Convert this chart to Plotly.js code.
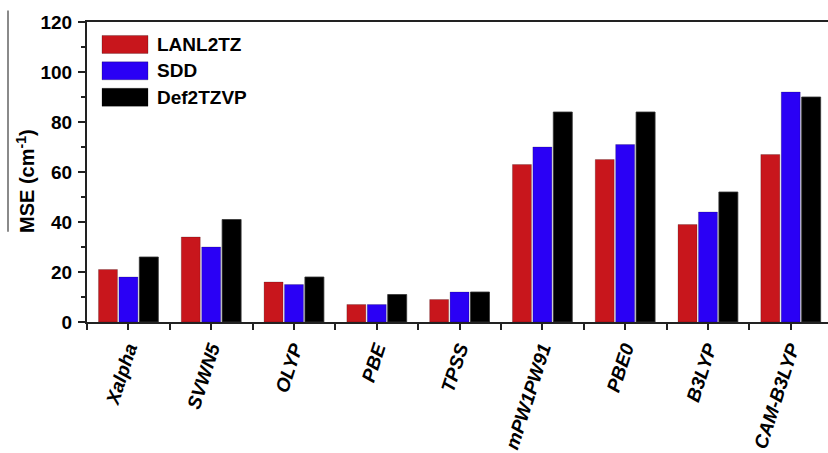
<!DOCTYPE html>
<html>
<head>
<meta charset="utf-8">
<script src="https://cdn.plot.ly/plotly-3.0.1.min.js"></script>
<style>html,body{margin:0;padding:0;background:#fff;}#chart{width:828px;height:453px;}</style>
</head>
<body>
<div id="chart"></div>
<script>
const categories = ["Xalpha","SVWN5","OLYP","PBE","TPSS","mPW1PW91","PBE0","B3LYP","CAM-B3LYP"];
const seriesNames = ["LANL2TZ","SDD","Def2TZVP"];
const lanl2tz = [21, 34, 16, 7, 9, 63, 65, 39, 67];
const sdd = [18, 30, 15, 7, 12, 70, 71, 44, 92];
const def2tzvp = [26, 41, 18, 11, 12, 84, 84, 52, 90];
const yTicks = [0, 20, 40, 60, 80, 100, 120];
const yTitle = "MSE (cm<sup>-1</sup>)";

const colors = ["#C8161C", "#2A00F5", "#000000"];
const xIdx = categories.map((c, i) => i);
const values = [lanl2tz, sdd, def2tzvp];

const traces = values.map((v, k) => ({
  type: "bar",
  x: xIdx,
  y: v,
  name: seriesNames[k],
  marker: {color: colors[k], line: {width: 0.8, color: k === 2 ? "#333" : "rgba(0,0,0,0.25)"}},
  showlegend: false,
  hoverinfo: "skip"
}));

const font = "Liberation Sans, Arial, sans-serif";
const L = 87, T = 21.5, W = 741, H = 301;
const px = x => (x - L) / W;
const py = y => 1 - (y - T) / H;
const shapes = [];
const annotations = [];
// custom legend with large swatches
seriesNames.forEach((n, k) => {
  const top = 35 + k * 26.5;
  shapes.push({type: "rect", xref: "paper", yref: "paper",
    x0: px(102), x1: px(148), y0: py(top + 18), y1: py(top),
    fillcolor: colors[k], line: {width: 0.8, color: "rgba(0,0,0,0.3)"}});
  annotations.push({xref: "paper", yref: "paper", x: px(155), y: py(top + 9),
    xanchor: "left", yanchor: "middle", showarrow: false, text: "<b>" + n + "</b>",
    font: {family: font, size: 19, color: "#000"}});
});
// y-axis title
annotations.push({xref: "paper", yref: "paper", x: px(26), y: py(181),
  xanchor: "center", yanchor: "middle", showarrow: false, textangle: -90,
  text: "<b>" + yTitle + "</b>", font: {family: font, size: 20, color: "#000"}});
// grey crop line at far left
shapes.push({type: "line", xref: "paper", yref: "paper",
  x0: px(8), x1: px(8), y0: py(232), y1: py(10),
  line: {color: "#8a8a8a", width: 2}});

const layout = {
  width: 828, height: 453,
  margin: {l: L, r: 0, t: T, b: 453 - T - H},
  paper_bgcolor: "#fff", plot_bgcolor: "#fff",
  barmode: "group", bargap: 0.26, bargroupgap: 0.07,
  showlegend: false,
  font: {family: font, color: "#000"},
  xaxis: {
    range: [-0.5, 8.45], tickmode: "array", tickvals: xIdx,
    ticktext: categories.map(c => "<b><i>" + c + "</i></b>"),
    tickangle: -72, tickfont: {family: font, size: 19, color: "#000"},
    ticks: "outside", ticklen: 6, tickwidth: 2, tickcolor: "#222",
    minor: {tick0: 0.5, dtick: 1, ticks: "outside", ticklen: 6, tickwidth: 2, tickcolor: "#222"},
    showline: true, linecolor: "#222", linewidth: 2, mirror: true,
    showgrid: false, zeroline: false, fixedrange: true
  },
  yaxis: {
    range: [0, 120], tickmode: "array", tickvals: yTicks,
    ticktext: yTicks.map(t => "<b>" + t + "</b>"),
    tickfont: {family: font, size: 19, color: "#000"},
    ticks: "outside", ticklen: 7, tickwidth: 2, tickcolor: "#222",
    ticklabelstandoff: 2,
    minor: {tick0: 10, dtick: 20, ticks: "outside", ticklen: 4, tickwidth: 2, tickcolor: "#222"},
    showline: true, linecolor: "#222", linewidth: 2,
    showgrid: false, zeroline: false, fixedrange: true
  },
  shapes: shapes,
  annotations: annotations
};

Plotly.newPlot("chart", traces, layout, {displayModeBar: false, staticPlot: true});
</script>
</body>
</html>
